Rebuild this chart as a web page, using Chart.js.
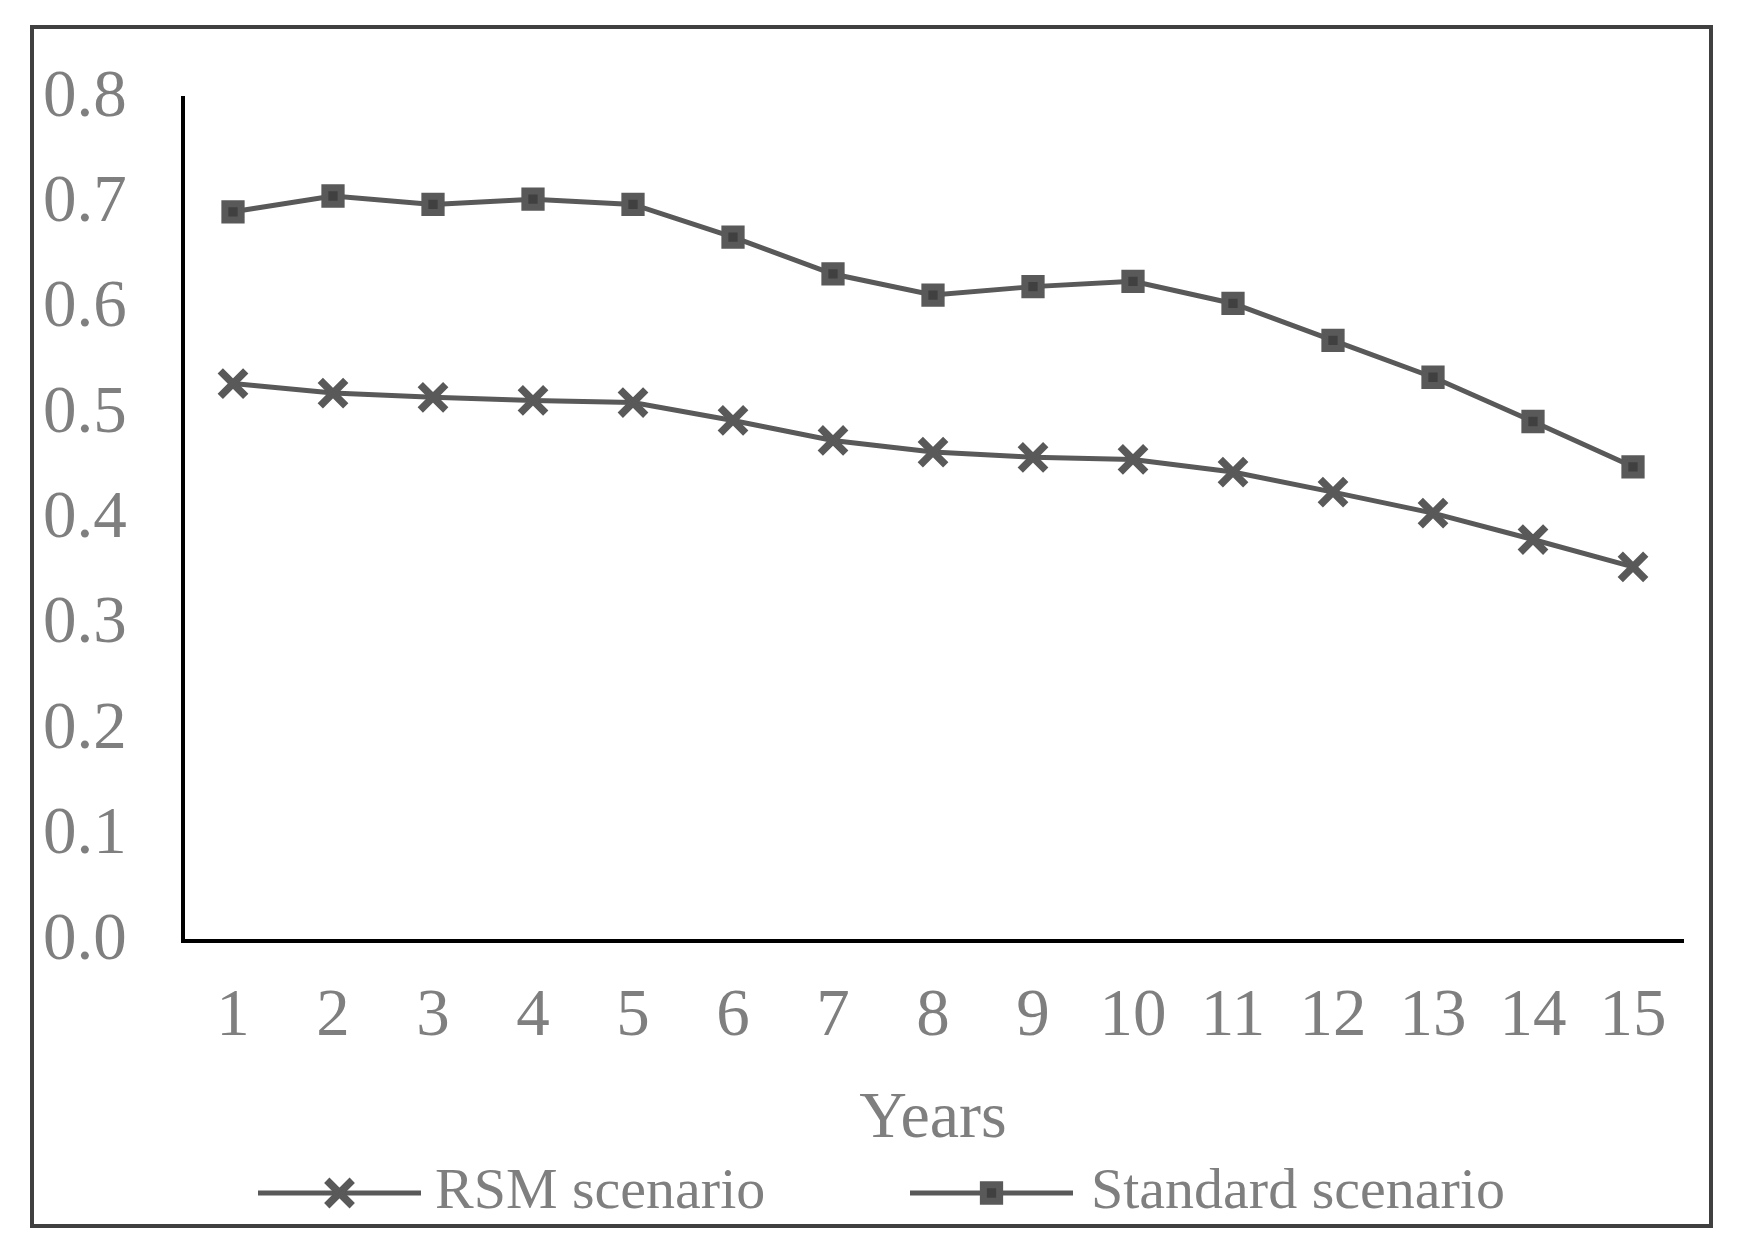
<!DOCTYPE html>
<html>
<head>
<meta charset="utf-8">
<script src="https://cdn.jsdelivr.net/npm/chart.js"></script>
<style>
    html, body { margin: 0; padding: 0; background: #ffffff; }
    #frame {
        position: absolute;
        left: 30px;
        top: 25px;
        width: 1683px;
        height: 1203px;
        box-sizing: border-box;
        border: 4px solid #404040;
        background: #ffffff;
    }
    #chart { display: block; }
</style>
</head>
<body>
<div id="frame">
    <canvas id="chart" width="1675" height="1195"></canvas>
</div>
<script>
// Values
const years = ['1', '2', '3', '4', '5', '6', '7', '8', '9', '10', '11', '12', '13', '14', '15'];
const rsmScenario = [0.529, 0.520, 0.516, 0.513, 0.511, 0.494, 0.475, 0.464, 0.459, 0.457, 0.445, 0.426, 0.406, 0.381, 0.355];
const standardScenario = [0.692, 0.707, 0.699, 0.704, 0.699, 0.668, 0.633, 0.613, 0.621, 0.626, 0.605, 0.570, 0.535, 0.493, 0.450];
const yTicks = [0.0, 0.1, 0.2, 0.3, 0.4, 0.5, 0.6, 0.7, 0.8];

const FONT = "'Liberation Serif', 'Times New Roman', serif";
const TEXT_GREY = '#7f7f7f';
const LINE_GREY = '#595959';

/**
 * Draws the legend below the axis title: a short line with the marker in its middle,
 * followed by the series name (Excel style).
 */
const lineLegend = {
    id: 'lineLegend',
    afterDraw(chart) {
        const ctx = chart.ctx;
        const items = [
            { lineStart: 224, text: 401 },
            { lineStart: 876, text: 1057 }
        ];
        const y = 1164;
        const lineLength = 163;

        chart.data.datasets.forEach((ds, i) => {
            const item = items[i];
            ctx.save();
            ctx.strokeStyle = ds.borderColor;
            ctx.lineWidth = ds.borderWidth;
            ctx.beginPath();
            ctx.moveTo(item.lineStart, y);
            ctx.lineTo(item.lineStart + lineLength, y);
            ctx.stroke();

            ctx.fillStyle = ds.pointBackgroundColor;
            ctx.strokeStyle = ds.pointBorderColor;
            ctx.lineWidth = ds.pointBorderWidth;
            Chart.helpers.drawPoint(ctx, {
                pointStyle: ds.pointStyle,
                radius: ds.pointRadius,
                borderWidth: ds.pointBorderWidth,
                rotation: 0
            }, item.lineStart + lineLength / 2, y);

            ctx.fillStyle = TEXT_GREY;
            ctx.font = '58px ' + FONT;
            ctx.textAlign = 'left';
            ctx.textBaseline = 'middle';
            ctx.fillText(ds.label, item.text, y);
            ctx.restore();
        });
    }
};

const ctx = document.getElementById('chart').getContext('2d');
new Chart(ctx, {
    type: 'line',
    data: {
        labels: years,
        datasets: [{
            label: 'RSM scenario',
            data: rsmScenario,
            borderColor: LINE_GREY,
            borderWidth: 5,
            tension: 0,
            pointStyle: 'crossRot',
            pointRadius: 18,
            pointBorderWidth: 7.5,
            pointBorderColor: LINE_GREY,
            pointBackgroundColor: LINE_GREY
        }, {
            label: 'Standard scenario',
            data: standardScenario,
            borderColor: LINE_GREY,
            borderWidth: 5,
            tension: 0,
            pointStyle: 'rect',
            pointRadius: 11.5,
            pointBorderWidth: 7,
            pointBorderColor: LINE_GREY,
            pointBackgroundColor: '#404040'
        }]
    },
    options: {
        responsive: false,
        devicePixelRatio: 1,
        animation: false,
        layout: {
            padding: { left: 9, right: 26, top: 69, bottom: 65 }
        },
        plugins: {
            legend: { display: false },
            tooltip: { enabled: false }
        },
        scales: {
            x: {
                offset: true,
                afterFit(scale) { scale.height = 218; },
                grid: { display: false, drawTicks: false },
                border: { display: true, color: '#000000', width: 4 },
                ticks: {
                    color: TEXT_GREY,
                    font: { family: FONT, size: 67 },
                    padding: 36,
                    maxRotation: 0,
                    autoSkip: false
                },
                title: {
                    display: true,
                    text: 'Years',
                    color: TEXT_GREY,
                    font: { family: FONT, size: 66 },
                    padding: { top: 22, bottom: 0 }
                }
            },
            y: {
                min: 0,
                max: 0.8,
                afterFit(scale) { scale.width = 140; },
                afterBuildTicks(scale) { scale.ticks = yTicks.map(v => ({ value: v })); },
                grid: { display: false, drawTicks: false },
                border: { display: true, color: '#000000', width: 4 },
                ticks: {
                    color: TEXT_GREY,
                    font: { family: FONT, size: 67 },
                    padding: 0,
                    crossAlign: 'far',
                    callback: value => value.toFixed(1)
                }
            }
        }
    },
    plugins: [lineLegend]
});
</script>
</body>
</html>
